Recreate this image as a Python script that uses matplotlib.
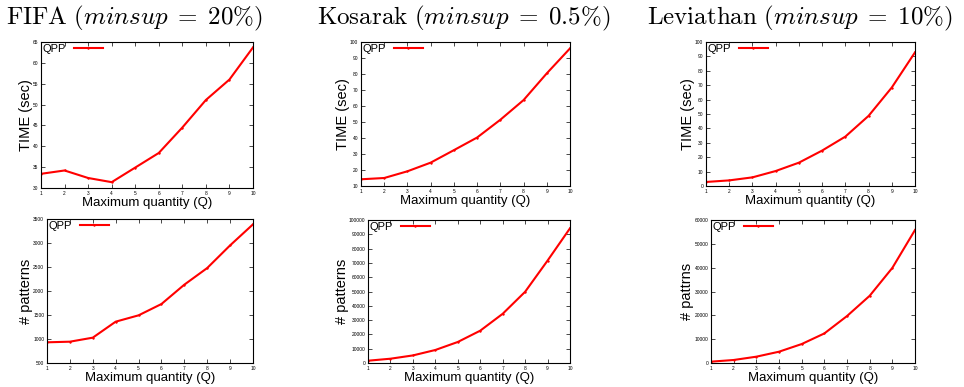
import matplotlib
matplotlib.use("Agg")
import matplotlib.pyplot as plt

# ---------- dane ----------
q = [1, 2, 3, 4, 5, 6, 7, 8, 9, 10]

fifa_time = [33.4, 34.2, 32.4, 31.4, 34.9, 38.4, 44.5, 51.1, 56.0, 63.7]
kosarak_time = [14.2, 15.0, 19.2, 24.6, 32.4, 40.3, 51.4, 63.7, 80.4, 96.0]
leviathan_time = [2.8, 3.9, 6.0, 10.4, 16.2, 24.6, 34.3, 48.7, 68.4, 92.8]

fifa_patterns = [931, 944, 1028, 1361, 1493, 1729, 2132, 2479, 2951, 3389]
kosarak_patterns = [1600, 3000, 5300, 9100, 14700, 22600, 34400, 49800, 71600, 94200]
leviathan_patterns = [560, 1260, 2650, 4740, 7950, 12400, 19700, 28200, 39900, 55800]

titles = [r"$\mathrm{FIFA}\ (minsup\;=\;20\%)$",
          r"$\mathrm{Kosarak}\ (minsup\;=\;0.5\%)$",
          r"$\mathrm{Leviathan}\ (minsup\;=\;10\%)$"]
title_x = [134, 464, 800]

top_ylabels = ["TIME (sec)", "TIME (sec)", "TIME (sec)"]
bottom_ylabels = ["# patterns", "# patterns", "# pattrns"]

top_ylims = [(30, 65, 5), (10, 100, 10), (0, 100, 10)]
bottom_ylims = [(500, 3500, 500), (0, 100000, 10000), (0, 60000, 10000)]

plt.rcParams["font.family"] = ["Liberation Sans", "DejaVu Sans"]
plt.rcParams["mathtext.fontset"] = "cm"

W, H = 964, 387
fig = plt.figure(figsize=(W / 100, H / 100), dpi=100)

# pozycje osi w pikselach: (lewo, góra, prawo, dół)
top_boxes = [(41, 42, 253, 188), (361, 42, 570, 186), (706, 42, 915, 186)]
bottom_boxes = [(47, 219, 253, 363), (368, 220, 570, 363), (711, 220, 915, 363)]


def make_axes(box):
    l, t, r, b = box
    return fig.add_axes([l / W, 1 - b / H, (r - l) / W, (b - t) / H])


def style(ax, ylim, ylabel):
    lo, hi, step = ylim
    ax.set_xlim(1, 10)
    ax.set_ylim(lo, hi)
    ax.set_xticks(q)
    ax.set_yticks(list(range(lo, hi + 1, step)))
    ax.tick_params(direction="in", top=True, right=True, labelsize=3.5,
                   length=3, width=0.5, pad=2)
    for s in ax.spines.values():
        s.set_linewidth(0.8)
    ax.set_xlabel("Maximum quantity (Q)", fontsize=9.5, labelpad=1)
    ax.set_ylabel(ylabel, fontsize=10.5, labelpad=0)
    ax.legend(loc="upper left", frameon=False, markerfirst=False, fontsize=8,
              handlelength=2.6, handletextpad=0.7, borderaxespad=0.0,
              borderpad=0.15)


top_data = [fifa_time, kosarak_time, leviathan_time]
bottom_data = [fifa_patterns, kosarak_patterns, leviathan_patterns]

for i in range(3):
    ax = make_axes(top_boxes[i])
    ax.plot(q, top_data[i], color="red", lw=1.5, marker="+", ms=2, label="QPP")
    style(ax, top_ylims[i], top_ylabels[i])

    ax = make_axes(bottom_boxes[i])
    ax.plot(q, bottom_data[i], color="red", lw=1.5, marker="+", ms=2, label="QPP")
    style(ax, bottom_ylims[i], bottom_ylabels[i])

    fig.text(title_x[i] / W, 1 - 18 / H, titles[i], fontsize=18,
             ha="center", va="center")

fig.savefig("out.png", dpi=100)
